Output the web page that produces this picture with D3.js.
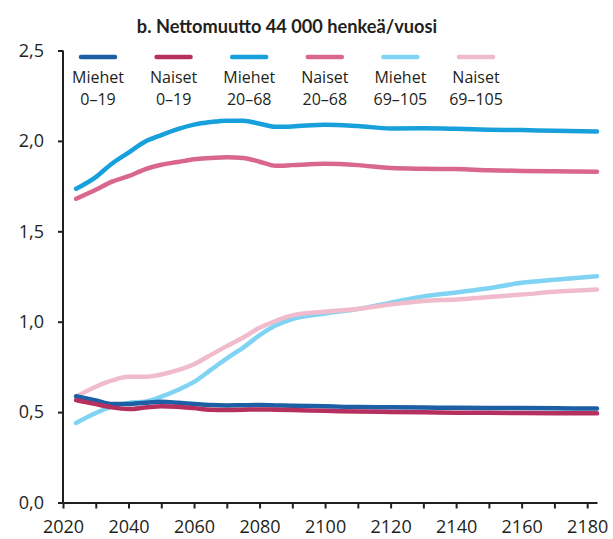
<!DOCTYPE html>
<html>
<head>
<meta charset="utf-8">
<script src="https://cdn.jsdelivr.net/npm/d3@7"></script>
<style>
  body { margin: 0; background: #fff; }
  text { font-family: "Open Sans", Lato, sans-serif; fill: #231f20; }
  .axis path, .axis line { stroke: #231f20; stroke-width: 2; }
  .axis text { font-size: 18px; }
</style>
</head>
<body>
<div id="chart"></div>
<script>
var W = 613, H = 539;

// data
var years = [2024, 2030, 2035, 2040, 2045, 2050, 2055, 2060, 2065, 2070, 2075, 2080, 2085, 2090, 2100, 2110, 2120, 2130, 2140, 2150, 2160, 2170, 2183];
var miehet0 = [0.588, 0.565, 0.545, 0.545, 0.552, 0.557, 0.552, 0.545, 0.539, 0.537, 0.538, 0.539, 0.537, 0.535, 0.532, 0.528, 0.527, 0.525, 0.524, 0.523, 0.522, 0.521, 0.52];
var naiset0 = [0.566, 0.544, 0.526, 0.517, 0.525, 0.533, 0.53, 0.522, 0.513, 0.512, 0.513, 0.515, 0.513, 0.511, 0.507, 0.503, 0.501, 0.499, 0.497, 0.496, 0.495, 0.494, 0.493];
var miehet20 = [1.735, 1.80, 1.875, 1.935, 1.995, 2.032, 2.065, 2.09, 2.104, 2.112, 2.112, 2.095, 2.078, 2.08, 2.09, 2.082, 2.069, 2.07, 2.067, 2.062, 2.06, 2.056, 2.052];
var naiset20 = [1.68, 1.73, 1.775, 1.805, 1.843, 1.868, 1.883, 1.898, 1.905, 1.91, 1.906, 1.885, 1.862, 1.866, 1.873, 1.866, 1.85, 1.846, 1.844, 1.838, 1.834, 1.832, 1.83];
var miehet69 = [0.44, 0.495, 0.53, 0.551, 0.557, 0.585, 0.622, 0.667, 0.732, 0.797, 0.857, 0.925, 0.98, 1.015, 1.045, 1.07, 1.105, 1.14, 1.162, 1.185, 1.215, 1.232, 1.251];
var naiset69 = [0.585, 0.64, 0.675, 0.695, 0.695, 0.708, 0.732, 0.765, 0.815, 0.865, 0.913, 0.966, 1.005, 1.035, 1.055, 1.07, 1.095, 1.115, 1.123, 1.137, 1.15, 1.165, 1.178];

var seriesNames = [["Miehet", "0–19"], ["Naiset", "0–19"], ["Miehet", "20–68"], ["Naiset", "20–68"], ["Miehet", "69–105"], ["Naiset", "69–105"]];
var seriesValues = [miehet0, naiset0, miehet20, naiset20, miehet69, naiset69];
var colors = ["#1c5fa5", "#b5305e", "#17a0db", "#d9668f", "#80d3f3", "#f0bccb"];
// order lines are painted in
var drawOrder = [4, 5, 2, 3, 0, 1];

var yTicks = [0, 0.5, 1, 1.5, 2, 2.5];
var xTicks = d3.range(2020, 2181, 10);

var svg = d3.select("#chart").append("svg")
  .attr("width", W)
  .attr("height", H);

var x = d3.scaleLinear().domain([2020, 2183]).range([63, 597]);
var y = d3.scaleLinear().domain([0, 2.5]).range([502.5, 50.5]);

// title
svg.append("text")
  .attr("x", 287)
  .attr("y", 33)
  .attr("text-anchor", "middle")
  .style("font-family", "Lato, sans-serif")
  .style("font-weight", "bold")
  .style("font-size", "18.2px")
  .text("b. Nettomuutto 44 000 henkeä/vuosi");

// axes
var fmt = function(d){ return d3.format(".1f")(d).replace(".", ","); };

svg.append("g")
  .attr("class", "axis")
  .attr("transform", "translate(63,0)")
  .call(d3.axisLeft(y).tickValues(yTicks).tickFormat(fmt).tickSize(5).tickSizeOuter(0).tickPadding(14))
  .call(function(g){ g.select(".domain").attr("d", "M0," + y(2.5) + "V" + y(0)); });

svg.append("g")
  .attr("class", "axis")
  .attr("transform", "translate(0," + y(0) + ")")
  .call(d3.axisBottom(x).tickValues(xTicks)
    .tickFormat(function(d){ return d % 20 == 0 ? d : ""; })
    .tickSize(6).tickSizeOuter(0).tickPadding(12));

svg.selectAll(".axis text").attr("font-family", null).attr("font-size", null);

// lines
var line = d3.line()
  .x(function(d){ return x(d.year); })
  .y(function(d){ return y(d.value); })
  .curve(d3.curveMonotoneX);

drawOrder.forEach(function(i){
  var pts = years.map(function(yr, k){ return {year: yr, value: seriesValues[i][k]}; });
  svg.append("path")
    .datum(pts)
    .attr("fill", "none")
    .attr("stroke", colors[i])
    .attr("stroke-width", 4.5)
    .attr("stroke-linecap", "round")
    .attr("stroke-linejoin", "round")
    .attr("d", line);
});

// legend
var legX = d3.scalePoint().domain(d3.range(6)).range([98, 476]);
var leg = svg.selectAll(".leg")
  .data(seriesNames)
  .enter().append("g")
  .attr("class", "leg")
  .attr("transform", function(d, i){ return "translate(" + legX(i) + ",0)"; });

leg.append("line")
  .attr("x1", -17).attr("x2", 17)
  .attr("y1", 57).attr("y2", 57)
  .attr("stroke", function(d, i){ return colors[i]; })
  .attr("stroke-width", 4.5)
  .attr("stroke-linecap", "round");

leg.append("text")
  .attr("text-anchor", "middle")
  .attr("y", 83)
  .style("font-size", "16px")
  .text(function(d){ return d[0]; });

leg.append("text")
  .attr("text-anchor", "middle")
  .attr("y", 105)
  .style("font-size", "16px")
  .text(function(d){ return d[1]; });
</script>
</body>
</html>
